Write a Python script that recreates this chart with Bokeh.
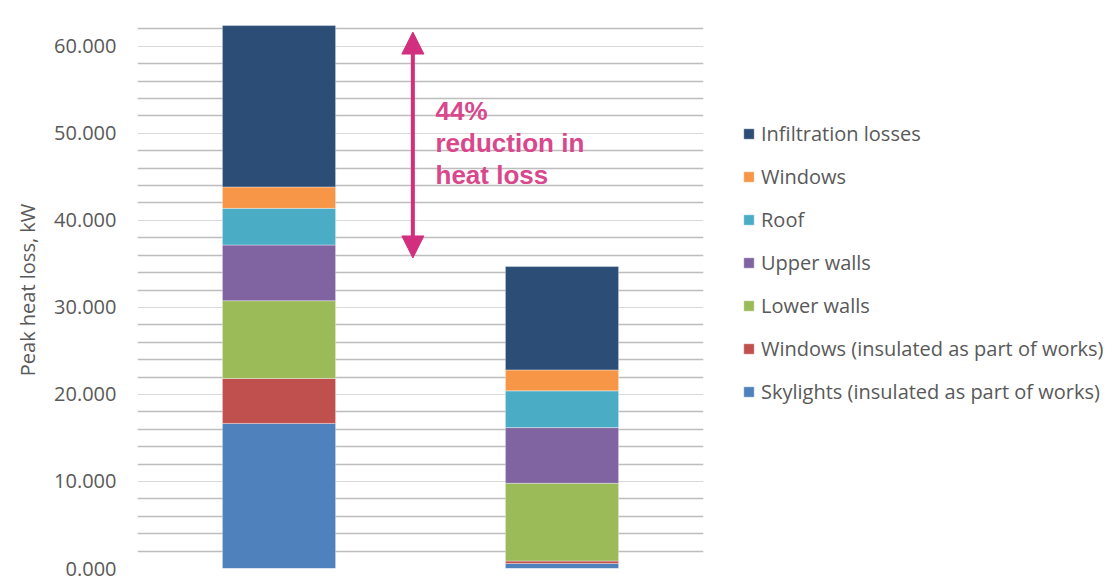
from bokeh.plotting import figure
from bokeh.models import (ColumnDataSource, FixedTicker, NumeralTickFormatter, Legend,
                          LegendItem, Grid, Arrow, NormalHead, Label, Range1d)
from bokeh.embed import file_html
from bokeh.resources import INLINE

# ---- data (kW) ----
scenarios = ["Existing", "After works"]
x_pos = [0.5, 1.5]
skylights = [16.67, 0.58]
windows_ins = [5.17, 0.28]
lower_walls = [8.93, 8.93]
upper_walls = [6.40, 6.40]
roof = [4.21, 4.22]
windows = [2.46, 2.41]
infiltration = [18.54, 11.87]

series_keys = ["skylights", "windows_ins", "lower_walls", "upper_walls", "roof", "windows", "infiltration"]
series_labels = ["Skylights (insulated as part of works)", "Windows (insulated as part of works)",
                 "Lower walls", "Upper walls", "Roof", "Windows", "Infiltration losses"]
series_colors = ["#4F81BD", "#C0504D", "#9BBB59", "#8064A2", "#4BACC6", "#F79646", "#2C4D75"]

y_ticks = [0, 10, 20, 30, 40, 50, 60]
grid_ticks_minor = [v for v in range(0, 65, 2) if v % 10 != 0]
annot_lines = ["44%", "reduction in", "heat loss"]

source = ColumnDataSource(dict(x=x_pos, skylights=skylights, windows_ins=windows_ins,
                               lower_walls=lower_walls, upper_walls=upper_walls, roof=roof,
                               windows=windows, infiltration=infiltration))

p = figure(frame_width=566, frame_height=557, output_backend="svg", toolbar_location=None,
           title=None, x_range=Range1d(0, 2), y_range=Range1d(0, 64),
           min_border_left=137, min_border_right=413, min_border_top=11, min_border_bottom=12)
p.outline_line_color = None
p.background_fill_color = "white"
p.border_fill_color = "white"

# grids
p.xgrid.visible = False
p.ygrid.ticker = FixedTicker(ticks=grid_ticks_minor)
p.ygrid.grid_line_color = "#bdbdbd"
p.ygrid.grid_line_width = 1.3
major_grid = Grid(dimension=1, ticker=FixedTicker(ticks=y_ticks + [64]),
                  grid_line_color="#d9d9d9", grid_line_width=1)
p.add_layout(major_grid)

renderers = p.vbar_stack(series_keys, x="x", width=0.4, source=source,
                         color=series_colors, line_color="white", line_alpha=0.45, line_width=0.8)

# axes
p.xaxis.visible = False
ya = p.yaxis[0]
ya.ticker = FixedTicker(ticks=y_ticks)
ya.formatter = NumeralTickFormatter(format="0.000")
ya.major_tick_line_color = None
ya.minor_tick_line_color = None
ya.axis_line_color = None
ya.major_label_text_font = "Open Sans"
ya.major_label_text_font_size = "20px"
ya.major_label_text_color = "#595959"
ya.major_label_standoff = 15
ya.axis_label = "Peak heat loss, kW"
ya.axis_label_text_font = "Open Sans"
ya.axis_label_text_font_size = "20px"
ya.axis_label_text_font_style = "normal"
ya.axis_label_text_color = "#595959"
ya.axis_label_standoff = 10

# legend (top item = infiltration)
items = [LegendItem(label=lab, renderers=[r]) for lab, r in zip(series_labels, renderers)][::-1]
legend = Legend(items=items, location=(39, 163), orientation="vertical",
                glyph_width=13, glyph_height=13, label_height=28, spacing=15,
                label_standoff=6, padding=0, margin=0,
                label_text_font="Open Sans", label_text_font_size="20px",
                label_text_color="#595959", border_line_color=None,
                background_fill_alpha=0)
p.add_layout(legend, "right")

# annotation arrow and text
arrow_x = 0.973
arrow_low, arrow_high = 35.68, 61.64
pink = "#D22F7E"
p.add_layout(Arrow(x_start=arrow_x, y_start=arrow_low, x_end=arrow_x, y_end=arrow_high,
                   line_color=pink, line_width=4,
                   start=NormalHead(size=22, fill_color=pink, line_color=pink),
                   end=NormalHead(size=22, fill_color=pink, line_color=pink)))
text_x = 1.053
text_baselines = [52.57, 48.91, 45.27]
for line, yb in zip(annot_lines, text_baselines):
    p.add_layout(Label(x=text_x, y=yb, text=line, text_font="Liberation Sans",
                       text_font_style="bold", text_font_size="26px",
                       text_color="#D9478C", text_baseline="alphabetic", text_align="left"))

open("out.html", "w").write(file_html(p, INLINE))
